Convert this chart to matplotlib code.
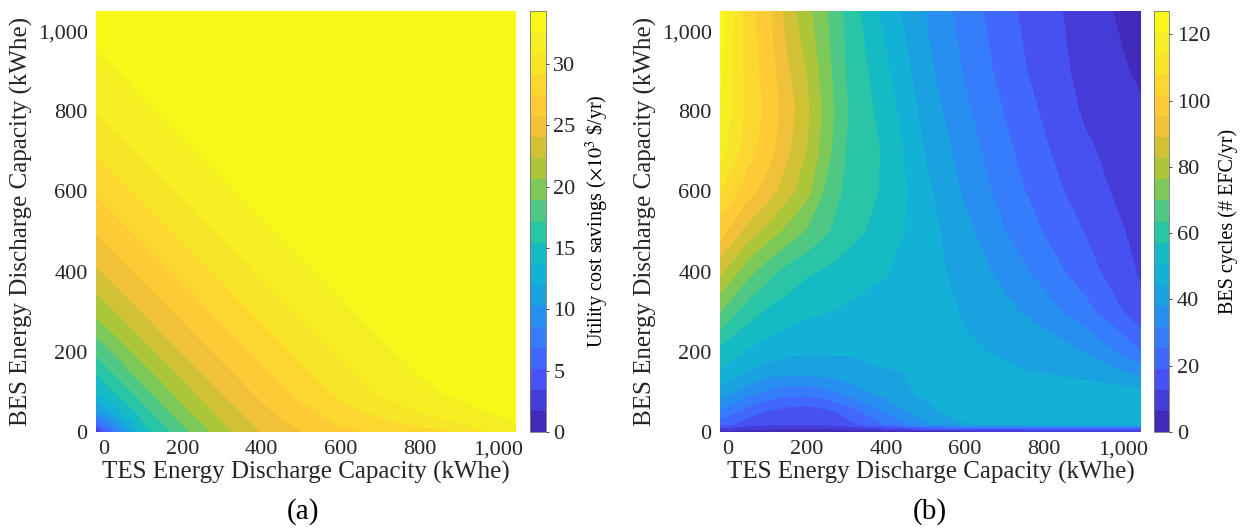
import numpy as np
import matplotlib.pyplot as plt
from matplotlib.colors import LinearSegmentedColormap

plt.rcParams['font.family'] = ['Liberation Serif', 'DejaVu Serif']
plt.rcParams['mathtext.fontset'] = 'stix'

# parula-like colormap (MATLAB default)
parula = LinearSegmentedColormap.from_list('parula', [
    (0.2422, 0.1504, 0.6603), (0.2691, 0.2141, 0.8228), (0.2810, 0.3228, 0.9579),
    (0.2440, 0.4358, 0.9988), (0.1786, 0.5289, 0.9682), (0.1085, 0.6130, 0.8886),
    (0.0689, 0.6948, 0.8394), (0.0858, 0.7420, 0.7382), (0.2161, 0.7843, 0.5923),
    (0.4329, 0.7887, 0.3885), (0.6720, 0.7793, 0.2227), (0.8640, 0.7488, 0.2058),
    (0.9970, 0.7659, 0.2199), (0.9912, 0.8240, 0.1962), (0.9657, 0.9010, 0.1565),
    (0.9600, 0.9400, 0.1200), (0.9769, 0.9839, 0.0805)])

# ---- data (a): utility cost savings, x1e3 $/yr ----
tes_a = [-20, 100, 200, 300, 400, 500, 600, 700, 800, 900, 1000, 1050]
bes_a = [0, 25, 50, 100, 200, 300, 400, 500, 600, 700, 800, 900, 1000, 1050]
savings = [
    [2.0, 14.5, 18.2, 21.5, 24.1, 25.6, 26.9, 27.7, 28.4, 29.2, 31.2, 32.0],
    [6.5, 15.4, 19.1, 22.2, 24.6, 26.4, 27.7, 28.7, 29.7, 30.9, 32.2, 32.6],
    [10.0, 16.4, 20.0, 22.9, 25.2, 26.9, 28.3, 29.6, 30.9, 32.0, 32.8, 33.1],
    [13.7, 18.2, 21.5, 24.1, 26.2, 27.9, 29.6, 31.1, 32.2, 32.9, 33.5, 33.7],
    [17.5, 21.5, 24.1, 26.2, 27.9, 29.6, 31.1, 32.3, 33.1, 33.7, 34.0, 34.1],
    [21.0, 24.1, 26.2, 27.9, 29.6, 31.1, 32.3, 33.1, 33.7, 34.0, 34.2, 34.25],
    [23.7, 26.2, 27.9, 29.6, 31.1, 32.3, 33.1, 33.7, 34.0, 34.2, 34.3, 34.3],
    [25.8, 27.9, 29.6, 31.1, 32.3, 33.1, 33.7, 34.0, 34.2, 34.3, 34.3, 34.3],
    [27.6, 29.6, 31.1, 32.3, 33.1, 33.7, 34.0, 34.2, 34.3, 34.3, 34.3, 34.3],
    [29.3, 31.1, 32.3, 33.1, 33.7, 34.0, 34.2, 34.3, 34.3, 34.3, 34.3, 34.3],
    [30.9, 32.3, 33.1, 33.7, 34.0, 34.2, 34.3, 34.3, 34.3, 34.3, 34.3, 34.3],
    [32.1, 33.1, 33.7, 34.0, 34.2, 34.3, 34.3, 34.3, 34.3, 34.3, 34.3, 34.3],
    [33.0, 33.7, 34.0, 34.2, 34.3, 34.3, 34.3, 34.3, 34.3, 34.3, 34.3, 34.3],
    [33.4, 33.9, 34.1, 34.2, 34.3, 34.3, 34.3, 34.3, 34.3, 34.3, 34.3, 34.3],
]
savings_max = 34.3
savings_ticks = [0, 5, 10, 15, 20, 25, 30]

# ---- data (b): BES cycles, # EFC/yr ----
tes_b = [-20, 50, 100, 150, 200, 250, 300, 400, 500, 600, 700, 800, 900, 1000, 1050]
bes_b = [0, 20, 50, 100, 150, 200, 300, 400, 500, 600, 700, 800, 900, 1050]
cycles = [
    [3, 2, 2, 1, 1, 1, 1, 1, 1, 1, 1, 1, 1, 1, 1],
    [22, 16, 14, 13, 13, 14, 17, 26, 37, 44, 47, 48, 48, 48, 48],
    [30, 22, 18, 16, 15, 17, 21, 32, 42, 48, 50, 50, 50, 50, 50],
    [42, 35, 30, 28, 28, 30, 34, 41, 46, 48, 48, 48, 48, 47, 46],
    [50, 44, 41, 40, 40, 41, 42, 44, 45, 45, 45, 44, 42, 38, 35],
    [55, 50, 48, 46, 45, 45, 45, 46, 46, 45, 44, 42, 38, 30, 25],
    [70, 60, 56, 54, 52, 51, 50, 49, 47, 44, 40, 35, 28, 19, 14],
    [84, 72, 66, 61, 58, 56, 54, 51, 47, 42, 36, 29, 22, 15, 11.5],
    [98, 86, 80, 74, 69, 64, 60, 54, 47, 40, 32, 25, 19, 13, 10],
    [108, 98, 92, 85, 78, 68, 62, 56, 46, 37, 29, 22, 16, 11, 9],
    [117, 104, 98, 90, 82, 72, 63, 56, 44, 35, 27, 20, 14, 10, 8],
    [120, 106, 100, 92, 84, 73, 64, 54, 42, 33, 25, 18, 12, 8.5, 7],
    [122, 105, 99, 90, 82, 72, 63, 52, 40, 31, 23, 16, 11, 7, 5],
    [124, 104, 97, 86, 78, 70, 62, 48, 38, 29, 21, 15, 10, 5, 3],
]
cycles_max = 127
cycles_ticks = [0, 20, 40, 60, 80, 100, 120]

cap_ticks = [0, 200, 400, 600, 800, 1000]
cap_labels = ['0', '200', '400', '600', '800', '1,000']

fig = plt.figure(figsize=(12.43, 5.31), dpi=100)
ax1 = fig.add_axes([0.0772, 0.1864, 0.3379, 0.7928])
cax1 = fig.add_axes([0.4264, 0.1864, 0.0125, 0.7928])
ax2 = fig.add_axes([0.5792, 0.1864, 0.3387, 0.7928])
cax2 = fig.add_axes([0.9284, 0.1864, 0.0121, 0.7928])

cs1 = ax1.contourf(tes_a, bes_a, savings, levels=np.linspace(0, savings_max, 21), cmap=parula)
cs2 = ax2.contourf(tes_b, bes_b, cycles, levels=np.linspace(0, cycles_max, 21), cmap=parula)

for ax in [ax1, ax2]:
    ax.set_xlim(-20, 1045)
    ax.set_ylim(0, 1050)
    ax.set_xticks(cap_ticks)
    ax.set_xticklabels(cap_labels)
    ax.set_yticks(cap_ticks)
    ax.set_yticklabels(cap_labels)
    ax.tick_params(length=0, labelsize=16, pad=6, colors='#262626')
    for s in ax.spines.values():
        s.set_visible(False)
    ax.set_xlabel('TES Energy Discharge Capacity (kWhe)', fontsize=18, labelpad=1, color='#262626')
    ax.set_ylabel('BES Energy Discharge Capacity (kWhe)', fontsize=18, labelpad=3, color='#262626')

cb1 = fig.colorbar(cs1, cax=cax1, ticks=savings_ticks)
cb1.set_label(r'Utility cost savings ($\times 10^3$ \$/yr)', fontsize=14.5, labelpad=6)
cb2 = fig.colorbar(cs2, cax=cax2, ticks=cycles_ticks)
cb2.set_label('BES cycles (# EFC/yr)', fontsize=14.5, labelpad=6)
for cb in [cb1, cb2]:
    cb.ax.tick_params(labelsize=16, length=2, width=0.6, colors='#262626')
    cb.outline.set_linewidth(0.6)
    cb.outline.set_edgecolor('#777777')

fig.text(303 / 1243, 1 - 512 / 531, '(a)', ha='center', va='center', fontsize=21)
fig.text(930 / 1243, 1 - 512 / 531, '(b)', ha='center', va='center', fontsize=21)

fig.savefig('out.png', dpi=100)
